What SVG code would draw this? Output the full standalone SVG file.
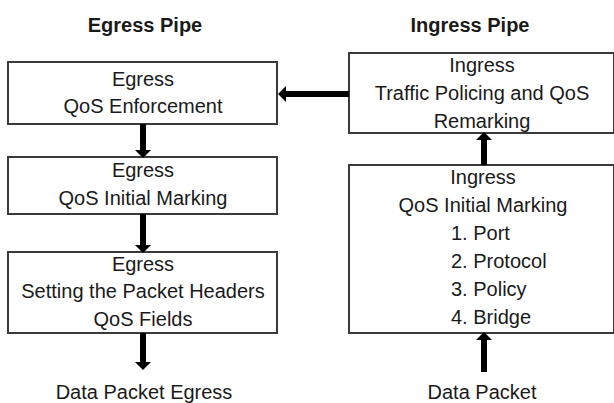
<svg xmlns="http://www.w3.org/2000/svg" width="614" height="403" viewBox="0 0 614 403">
<defs>
<style>
.box{fill:#fff;stroke:#3a3a3a;stroke-width:2}
text{font-family:"Liberation Sans",Arial,sans-serif;font-size:20px;fill:#1a1a1a;text-anchor:middle}
.title{font-weight:bold}
.lst{text-anchor:start}
.conn line{stroke:#000;stroke-width:6}
</style>
<marker id="ah" markerUnits="userSpaceOnUse" viewBox="0 0 8 16" refX="0" refY="8" markerWidth="8" markerHeight="16" orient="auto">
<path d="M0,0 L8,8 L0,16 z" fill="#000"/>
</marker>
</defs>
<rect width="614" height="403" fill="#fff"/>
<text class="title" x="145" y="32">Egress Pipe</text>
<text class="title" x="470" y="32">Ingress Pipe</text>

<g id="egress-enforcement">
<rect class="box" x="8" y="62" width="269" height="62"/>
<text x="143" y="86">Egress</text>
<text x="143" y="113">QoS Enforcement</text>
</g>
<g id="egress-marking">
<rect class="box" x="8" y="157" width="269" height="57"/>
<text x="143" y="177">Egress</text>
<text x="143" y="205">QoS Initial Marking</text>
</g>
<g id="egress-headers">
<rect class="box" x="8" y="252" width="269" height="81"/>
<text x="143" y="271">Egress</text>
<text x="143" y="298">Setting the Packet Headers</text>
<text x="143" y="326">QoS Fields</text>
</g>
<g id="egress-out">
<text x="144" y="399">Data Packet Egress</text>
</g>
<g id="ingress-policing">
<rect class="box" x="349" y="53" width="265" height="80"/>
<text x="482" y="72">Ingress</text>
<text x="482" y="100">Traffic Policing and QoS</text>
<text x="482" y="128">Remarking</text>
</g>
<g id="ingress-marking">
<rect class="box" x="349" y="165" width="265" height="168"/>
<text x="483" y="184">Ingress</text>
<text x="483" y="212">QoS Initial Marking</text>
<text class="lst" x="451" y="240">1. Port</text>
<text class="lst" x="451" y="268">2. Protocol</text>
<text class="lst" x="451" y="296">3. Policy</text>
<text class="lst" x="451" y="324">4. Bridge</text>
</g>
<g id="ingress-in">
<text x="482" y="399">Data Packet</text>
</g>

<g class="conn" id="connectors">
<line x1="349" y1="94" x2="286" y2="94" stroke-width="7" marker-end="url(#ah)"/>
<line x1="143" y1="124" x2="143" y2="150" marker-end="url(#ah)"/>
<line x1="143" y1="214" x2="143" y2="245" marker-end="url(#ah)"/>
<line x1="143" y1="333" x2="143" y2="362" marker-end="url(#ah)"/>
<line x1="484" y1="165" x2="484" y2="140" marker-end="url(#ah)"/>
<line x1="484" y1="372" x2="484" y2="340" marker-end="url(#ah)"/>
</g>
</svg>
